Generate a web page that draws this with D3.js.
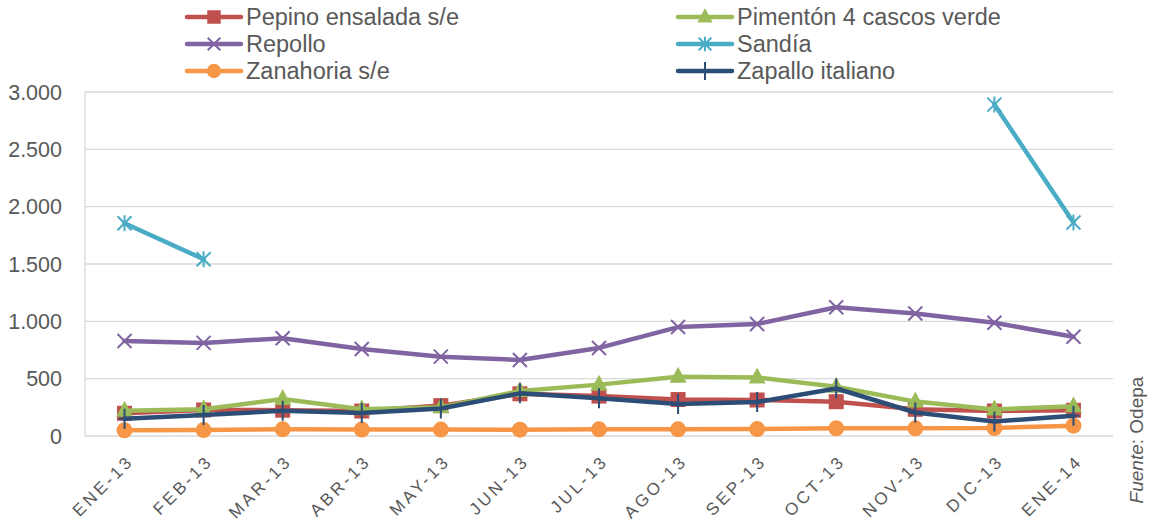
<!DOCTYPE html>
<html><head><meta charset="utf-8">
<script src="https://cdn.jsdelivr.net/npm/d3@7"></script>
<style>body{margin:0;background:#fff;}svg{display:block;font-family:"Liberation Sans",Arial,sans-serif;}</style>
</head><body>
<svg id="c" width="1149" height="522"></svg>
<script>
const categories = ["ENE-13","FEB-13","MAR-13","ABR-13","MAY-13","JUN-13","JUL-13","AGO-13","SEP-13","OCT-13","NOV-13","DIC-13","ENE-14"];
const pepino    = [198,227,225,218,265,368,348,318,314,299,233,218,224];
const pimenton  = [220,233,323,233,250,392,448,516,511,430,300,232,260];
const repollo   = [828,812,852,759,692,663,768,950,977,1123,1068,987,866];
const sandia    = [1855,1542,null,null,null,null,null,null,null,null,null,2890,1862];
const zanahoria = [50,52,58,56,56,55,58,58,60,67,67,70,90];
const zapallo   = [150,183,221,200,240,372,330,280,296,414,205,127,176];
const yTicks = [0,500,1000,1500,2000,2500,3000];

const series = [
  {name:"Pepino ensalada s/e", values:pepino, color:"#C0504D", marker:"square"},
  {name:"Pimentón 4 cascos verde", values:pimenton, color:"#9BBB59", marker:"triangle"},
  {name:"Repollo", values:repollo, color:"#8064A2", marker:"x"},
  {name:"Sandía", values:sandia, color:"#4BACC6", marker:"star"},
  {name:"Zanahoria s/e", values:zanahoria, color:"#F79646", marker:"circle"},
  {name:"Zapallo italiano", values:zapallo, color:"#2C4D75", marker:"plus"}
];

const svg = d3.select("#c");
const L=85, R=1113, T=92, B=436;
const x = d3.scaleBand().domain(categories).range([L,R]);
const y = d3.scaleLinear().domain([0,3000]).range([B,T]);
const cx = c => x(c)+x.bandwidth()/2;

// gridlines
svg.append("g").selectAll("line").data(yTicks.filter(d=>d>0)).join("line")
  .attr("x1",L).attr("x2",R).attr("y1",d=>y(d)).attr("y2",d=>y(d))
  .attr("stroke","#D9D9D9").attr("stroke-width",1.3);
svg.append("line").attr("x1",L).attr("x2",L).attr("y1",T).attr("y2",B).attr("stroke","#D9D9D9").attr("stroke-width",1.3);
svg.append("line").attr("x1",L).attr("x2",R).attr("y1",B).attr("y2",B).attr("stroke","#D9D9D9").attr("stroke-width",1.3);

// y labels
const fmt = d3.format(",");
svg.append("g").selectAll("text").data(yTicks).join("text")
  .attr("x",62).attr("y",d=>y(d)).attr("dy","0.35em").attr("text-anchor","end")
  .attr("font-size",21.5).attr("fill","#595959")
  .text(d=>fmt(d).replace(/,/g,"."));

// x labels
svg.append("g").selectAll("text").data(categories).join("text")
  .attr("transform",d=>`translate(${cx(d)+6},${B+22}) rotate(-45)`)
  .attr("text-anchor","end").attr("font-size",17).attr("letter-spacing","3.1px")
  .attr("fill","#595959").attr("dy","0.35em")
  .text(d=>d);

function drawMarker(g, type, color, px, py, s) {
  s = s||1;
  if(type==="square") g.append("rect").attr("x",px-7.5*s).attr("y",py-7.5*s).attr("width",15*s).attr("height",15*s).attr("fill",color);
  else if(type==="triangle") g.append("path").attr("d",`M${px},${py-10*s}L${px+8.5*s},${py+6*s}L${px-8.5*s},${py+6*s}Z`).attr("fill",color);
  else if(type==="circle") g.append("circle").attr("cx",px).attr("cy",py).attr("r",8*s).attr("fill",color);
  else if(type==="x") g.append("path").attr("d",`M${px-7*s},${py-7*s}L${px+7*s},${py+7*s}M${px-7*s},${py+7*s}L${px+7*s},${py-7*s}`).attr("stroke",color).attr("stroke-width",2);
  else if(type==="star") g.append("path").attr("d",`M${px-7*s},${py-7*s}L${px+7*s},${py+7*s}M${px-7*s},${py+7*s}L${px+7*s},${py-7*s}M${px},${py-8*s}L${px},${py+8*s}`).attr("stroke",color).attr("stroke-width",2);
  else if(type==="plus") g.append("path").attr("d",`M${px},${py-10*s}L${px},${py+10*s}M${px-6*s},${py}L${px+6*s},${py}`).attr("stroke",color).attr("stroke-width",2);
}

const line = d3.line().defined(d=>d.v!=null).x(d=>cx(d.c)).y(d=>y(d.v));
series.forEach(s=>{
  const g = svg.append("g");
  const pts = categories.map((c,i)=>({c, v:s.values[i]}));
  g.append("path").attr("d",line(pts)).attr("fill","none").attr("stroke",s.color)
    .attr("stroke-width",4.5).attr("stroke-linejoin","round").attr("stroke-linecap","round");
  pts.filter(p=>p.v!=null).forEach(p=>drawMarker(g,s.marker,s.color,cx(p.c),y(p.v)));
});

// legend
const legX = [187, 678], legY = [17, 44, 71];
series.forEach((s,i)=>{
  const col = i%2, row = Math.floor(i/2);
  const lx = legX[col], ly = legY[row];
  const g = svg.append("g");
  g.append("line").attr("x1",lx).attr("x2",lx+54).attr("y1",ly).attr("y2",ly).attr("stroke",s.color).attr("stroke-width",4.5).attr("stroke-linecap","round");
  drawMarker(g,s.marker,s.color,lx+27,ly,0.9);
  g.append("text").attr("x",lx+59).attr("y",ly).attr("dy","0.36em").attr("font-size",23.5).attr("fill","#595959").text(s.name);
});

// source
const src = svg.append("text").attr("transform","translate(1143,440) rotate(-90)")
  .attr("text-anchor","middle").attr("font-size",19).attr("fill","#595959");
src.append("tspan").attr("font-style","italic").text("Fuente");
src.append("tspan").text(": Odepa");
</script>
</body></html>
